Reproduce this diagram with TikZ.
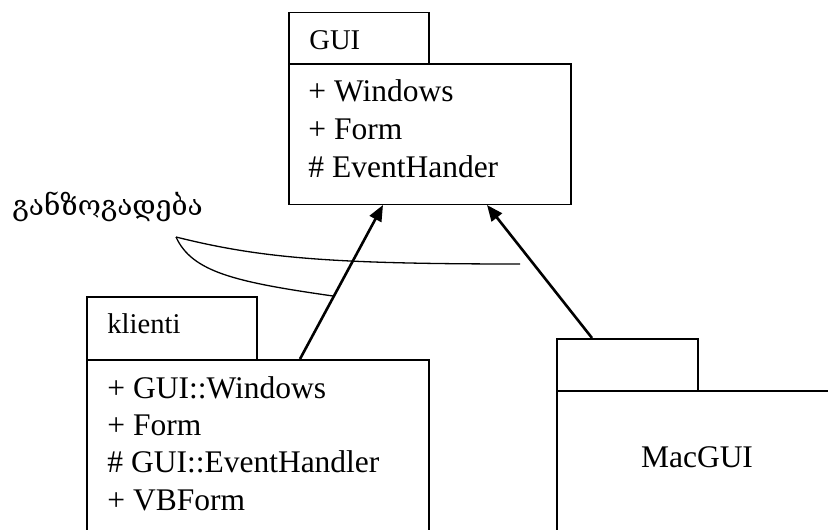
\documentclass[tikz,border=0pt]{standalone}
\usepackage{fontspec}
\setmainfont{Liberation Serif}
\newfontfamily\geofont{DejaVu Serif}
\usetikzlibrary{arrows.meta}

\tikzset{
  pkgbox/.style={draw, line width=0.75pt, rectangle, inner sep=0pt, anchor=north west},
  tablabel/.style={anchor=base west, inner sep=0pt, font=\fontsize{14.3}{17}\selectfont},
  member/.style={anchor=base west, inner sep=0pt, font=\fontsize{15.75}{19}\selectfont},
  generalization/.style={line width=1.3pt, -{Triangle[length=8pt,width=6.5pt]}},
  calloutline/.style={line width=0.65pt}
}

\begin{document}
\begin{tikzpicture}[x=0.5pt, y=-0.5pt]
  \useasboundingbox (0,0) rectangle (828,529);
  \clip (0,0) rectangle (828,529);

  % package GUI
  \node[pkgbox, minimum width=70pt, minimum height=25.5pt] (guitab) at (288,12) {};
  \node[pkgbox, minimum width=141pt, minimum height=70pt] (guibody) at (288,63.5) {};
  \node[tablabel] (guiname) at (309,50) {GUI};
  \node[member] (gui1) at (308,102) {+ Windows};
  \node[member] (gui2) at (308,140) {+ Form};
  \node[member] (gui3) at (308,177) {\# EventHander};

  % package klienti
  \node[pkgbox, minimum width=85pt, minimum height=31.5pt] (kltab) at (86,296) {};
  \node[pkgbox, minimum width=171pt, minimum height=110pt] (klbody) at (86,359) {};
  \node[tablabel] (klname) at (107,333) {klienti};
  \node[member] (kl1) at (107,398) {+ GUI::Windows};
  \node[member] (kl2) at (107,435) {+ Form};
  \node[member] (kl3) at (107,472) {\# GUI::EventHandler};
  \node[member] (kl4) at (107,510) {+ VBForm};

  % package MacGUI
  \node[pkgbox, minimum width=70.5pt, minimum height=26pt] (mactab) at (556,338) {};
  \node[pkgbox, minimum width=150pt, minimum height=110pt] (macbody) at (556,390) {};
  \node[anchor=base, inner sep=0pt, font=\fontsize{15.75}{19}\selectfont] (macname) at (697,467) {MacGUI};

  % generalization arrows
  \draw[generalization] ([xshift=107pt]klbody.north west) -- ([xshift=47.5pt]guibody.south west);
  \draw[generalization] ([xshift=18pt]mactab.north west) -- ([xshift=99.5pt]guibody.south west);

  % note label with its callout
  \node[anchor=base west, inner sep=0pt, font=\geofont\fontsize{14}{17}\selectfont] (note) at (12,215) {განზოგადება};
  \coordinate (tip) at (176,237);
  \coordinate (upperend) at (520,264);
  \coordinate (lowerend) at (333,296);
  \draw[calloutline] (tip) .. controls (260,258) and (330,264) .. (upperend);
  \draw[calloutline] (tip) .. controls (192,272) and (235,282) .. (lowerend);
\end{tikzpicture}
\end{document}
